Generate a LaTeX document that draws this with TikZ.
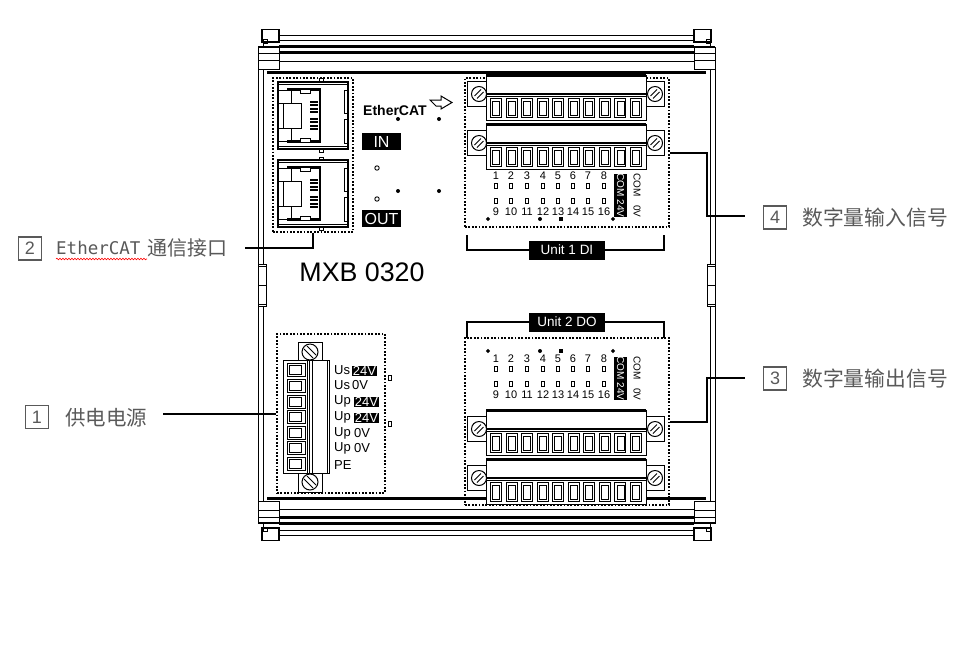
\documentclass[tikz,border=0pt]{standalone}
\usepackage{fontspec}
\setmainfont{Liberation Sans}
\newfontfamily\cjk{Noto Sans CJK SC}
\newfontfamily\monofam{DejaVu Sans Mono}
\usetikzlibrary{decorations.pathmorphing}
\definecolor{labelgray}{HTML}{595959}

\tikzset{
  fsize/.style = {font=\fontsize{#1}{#1}\selectfont},
  dotbox/.style = {draw, line width=1.8pt, dash pattern=on 1.8pt off 1.6pt, inner sep=0pt},
  leader/.style = {draw, line width=2pt},
  blackbox/.style = {fill=black, text=white, inner sep=0pt},
  numberbox/.style = {
    draw=labelgray, line width=1.2pt, fill=white, text=labelgray,
    minimum width=23pt, minimum height=23pt, inner sep=0pt, fsize=18
  },
  labeltext/.style = {text=labelgray, inner sep=0pt, anchor=west, font=\fontsize{#1}{24}\selectfont\cjk},
  labeltext/.default = 20.5,
  pinlabel/.style = {inner sep=0pt, fsize=11},
  powerlabel/.style = {inner sep=0pt, anchor=west, fsize=13},
  squiggle/.style = {
    draw=red, line width=0.6pt,
    decorate, decoration={snake, amplitude=0.8pt, segment length=3pt}
  }
}

% one plug-in terminal strip, #1 is the top edge
\newcommand{\terminalstrip}[1]{
  \foreach \cx/\ex/\ix in {479/467/486, 655/664/646} {
    \draw[line width=0.9pt, fill=white] (\ex,#1+6) rectangle (\ix,#1+31);
    \draw[line width=1pt, fill=white] (\cx,#1+19) circle (7.5);
    \draw[line width=0.8pt] (\cx-4.5,#1+21) -- (\cx+2,#1+14.5) (\cx-2,#1+23.5) -- (\cx+4.5,#1+17);
  }
  \draw[line width=0.9pt, fill=white] (486,#1) rectangle (646,#1+45);
  \draw[line width=2.5pt] (486,#1+0.5) -- (646,#1+0.5);
  \draw[line width=2pt] (486,#1+18.5) -- (646,#1+18.5);
  \draw[line width=0.8pt] (486,#1+21) -- (646,#1+21);
  \foreach \k in {0,...,9} {
    \draw[line width=0.9pt] (496+15.55*\k-5.5,#1+23) rectangle (496+15.55*\k+5.5,#1+42);
    \draw[line width=0.8pt] (496+15.55*\k-3.5,#1+26) rectangle (496+15.55*\k+3.5,#1+40);
  }
}

% RJ45 socket, #1 is the top edge
\newcommand{\rjport}[1]{
  \draw[line width=1.2pt] (278,#1) rectangle (348,#1+67);
  \draw[line width=0.8pt] (278,#1+2.5) -- (348,#1+2.5) (278,#1+64.5) -- (348,#1+64.5);
  \draw[line width=2.5pt] (287,#1+7.5) -- (320,#1+7.5) -- (320,#1+59.5) -- (287,#1+59.5);
  \draw[line width=0.8pt] (279,#1+8) -- (287,#1+8) (279,#1+59.5) -- (287,#1+59.5);
  \draw[line width=1pt] (291,#1+8) -- (291,#1+21) (291,#1+46) -- (291,#1+59);
  \draw[line width=1pt, fill=white] (283,#1+21) rectangle (301,#1+46);
  \draw[line width=0.8pt] (279,#1+21) -- (283,#1+21) (279,#1+46) -- (283,#1+46);
  \draw[line width=0.8pt, fill=white] (300,#1+7) rectangle (310,#1+11);
  \draw[line width=0.8pt, fill=white] (300,#1+56) rectangle (310,#1+60);
  \foreach \k in {0,1,2,3,5,6,7,8} {
    \fill (310,#1+19+3.4*\k) rectangle (318,#1+21+3.4*\k);
  }
  \draw[line width=0.8pt] (344,#1+8) -- (347,#1+8) -- (347,#1+31) -- (344,#1+31) -- cycle;
  \draw[line width=0.8pt] (344,#1+37) -- (347,#1+37) -- (347,#1+61) -- (344,#1+61) -- cycle;
  \draw[line width=0.8pt, fill=white] (319,#1+67) rectangle (323,#1+70);
}

% numbers, LEDs and the COM column, #1 is the height of the upper numbers
\newcommand{\ledpanel}[1]{
  \foreach \cx [count=\n] in {496,511,527,543,558,573,588,604} {
    \pgfmathtruncatemacro{\m}{\n+8}
    \node[pinlabel] (top\n) at (\cx,#1) {\n};
    \node[pinlabel] (bot\m) at (\cx,#1+36) {\m};
    \draw[line width=1.2pt, fill=white] (\cx-1.5,#1+7.5) rectangle (\cx+1.5,#1+12.5);
    \draw[line width=1.2pt, fill=white] (\cx-1.5,#1+22.5) rectangle (\cx+1.5,#1+27.5);
  }
  \node[blackbox, rotate=-90, minimum width=43pt, minimum height=13pt, fsize=10] (comon) at (620.5,#1+19.5) {COM 24V};
  \node[rotate=-90, inner sep=0pt, fsize=10] (comoff) at (637,#1+19.5) {COM\hspace{8pt}0V};
}

\begin{document}
\begin{tikzpicture}[x=1pt, y=-1pt]
  \useasboundingbox (0,0) rectangle (974,649);

  % DIN rail, four mirrored corners
  \foreach \sx/\tx in {1/0, -1/973} {
    \foreach \sy/\ty in {1/0, -1/-570} {
      \begin{scope}[xshift=\tx pt, yshift=\ty pt, xscale=\sx, yscale=\sy]
        \draw[line width=1.6pt] (262,29.5) rectangle (279,42);
        \draw[line width=0.8pt] (263,39) rectangle (267,43);
        \draw[line width=0.8pt] (263,42) -- (263,47);
        \draw[line width=2pt] (258,46.8) -- (279,46.8);
        \draw[line width=1pt] (258,47) rectangle (279,69);
        \draw[line width=1pt] (258,53) -- (279,53) (258,60) -- (279,60);
        \draw[line width=1pt] (279,35) -- (486.5,35) (279,40) -- (486.5,40) (279,61) -- (486.5,61);
        \draw[line width=2.4pt] (279,46.5) -- (486.5,46.5) (279,52.5) -- (486.5,52.5);
        \draw[line width=3pt] (267,72) -- (486.5,72);
        \draw[line width=1pt] (258,69) -- (258,285) (263,69) -- (263,285);
        \draw[line width=1pt, fill=white] (258,264) rectangle (266,285);
        \draw[line width=0.6pt] (258,266) -- (266,266);
      \end{scope}
    }
  }

  % Dotted outlines
  \node[dotbox, minimum width=80pt, minimum height=154pt] (ethbox) at (313,155) {};
  \node[dotbox, minimum width=108pt, minimum height=159pt] (pwrbox) at (331,413.5) {};
  \node[dotbox, minimum width=204pt, minimum height=149pt] (dibox) at (567,152.5) {};
  \node[dotbox, minimum width=204pt, minimum height=167pt] (dobox) at (567,421.5) {};

  % EtherCAT ports
  \draw[line width=0.8pt, fill=white] (319,78) rectangle (323,82);
  \rjport{82}
  \draw[line width=0.8pt, fill=white] (319,157) rectangle (323,160);
  \rjport{160}

  % EtherCAT logo
  \node[inner sep=0pt, anchor=west, font=\fontsize{14}{14}\selectfont\bfseries] (logo) at (363,110) {EtherCAT};
  \draw[line width=1pt, fill=white] (430,100) -- (441,100) -- (441,96) -- (452,102.5) -- (441,109) -- (441,106) -- (436,106) -- cycle;
  \node[blackbox, minimum width=39pt, minimum height=17pt, fsize=16] (inbox) at (381.5,141.5) {IN};
  \node[blackbox, minimum width=39pt, minimum height=17pt, fsize=16] (outbox) at (381.5,218.5) {OUT};
  \foreach \ax/\ay in {398/119, 439/119, 398/191, 439/191} {
    \fill (\ax,\ay) circle (2);
  }
  \foreach \ay in {168, 199} {
    \draw[line width=0.9pt] (377,\ay) circle (2.2);
  }
  \node[inner sep=0pt, fsize=26.8] (model) at (362,272) {MXB 0320};

  % Terminal strips
  \terminalstrip{75}
  \terminalstrip{124}
  \terminalstrip{410}
  \terminalstrip{459}

  % Numbers
  \ledpanel{176}
  \ledpanel{359}
  \foreach \ay in {219, 351} {
    \draw[line width=1.2pt, fill=white] (488,\ay) circle (1.3);
    \fill (540,\ay) circle (2);
    \fill (559,\ay-2) rectangle (563,\ay+2);
    \draw[line width=1.2pt, fill=white] (613,\ay) circle (1.3);
  }

  % Unit brackets
  \node[blackbox, minimum width=76pt, minimum height=19pt, fsize=13.5] (unitdi) at (567,250) {Unit 1 DI};
  \node[blackbox, minimum width=76pt, minimum height=19pt, fsize=13.5] (unitdo) at (567,322) {Unit 2 DO};
  \draw[leader] (467,235) |- (unitdi.west);
  \draw[leader] (664,235) |- (unitdi.east);
  \draw[leader] (467,338) |- (unitdo.west);
  \draw[leader] (664,338) |- (unitdo.east);

  % Power connector
  \draw[line width=0.9pt, fill=white] (298,342) rectangle (322,492);
  \foreach \ay in {352, 482} {
    \draw[line width=1pt, fill=white] (310,\ay) circle (8);
    \draw[line width=0.8pt] (304,\ay-3) -- (313,\ay+6) (307,\ay-6) -- (316,\ay+3);
  }
  \draw[line width=0.9pt, fill=white] (283,360) rectangle (329,473);
  \draw[line width=0.9pt] (307,360) -- (307,473) (312,360) -- (312,473);
  \draw[line width=0.9pt] (309,360) -- (309,473) (327,360) -- (327,473);
  \foreach \ay in {370, 386, 402, 417, 433, 448, 464} {
    \draw[line width=0.9pt] (287,\ay-6.5) rectangle (305,\ay+6.5);
    \draw[line width=0.8pt] (289,\ay-4.5) rectangle (301,\ay+4.5);
  }

  % Power labels
  \node[powerlabel] (usa) at (334,370) {Us};
  \node[powerlabel] (usb) at (334,385) {Us};
  \node[powerlabel] (upa) at (334,401) {Up};
  \node[powerlabel] (upb) at (334,417) {Up};
  \node[powerlabel] (upc) at (334,433) {Up};
  \node[powerlabel] (upd) at (334,448) {Up};
  \node[powerlabel] (pe) at (334,465) {PE};
  \node[blackbox, minimum width=25pt, minimum height=10pt, fsize=13] (vusa) at (364.5,370.5) {24V};
  \node[powerlabel] (vusb) at (352,385) {0V};
  \node[blackbox, minimum width=25pt, minimum height=10pt, fsize=13] (vupa) at (366.5,401.5) {24V};
  \node[blackbox, minimum width=25pt, minimum height=10pt, fsize=13] (vupb) at (366.5,417.5) {24V};
  \node[powerlabel] (vupc) at (354,433) {0V};
  \node[powerlabel] (vupd) at (354,448) {0V};
  \foreach \ay in {378, 424} {
    \draw[line width=1.2pt, fill=white] (388.5,\ay-2.5) rectangle (391.5,\ay+2.5);
  }

  % Callouts on the left
  \node[numberbox] (numtwo) at (30,248.5) {2};
  \node[labeltext, font=\fontsize{17.5}{24}\selectfont\monofam] (ecat) at (56,248) {EtherCAT};
  \node[labeltext=20] (ethtext) at (147,248) {通信接口};
  \draw[squiggle] (56,259) -- (147,259);
  \node[numberbox] (numone) at (37,417) {1};
  \node[labeltext] (pwrtext) at (65,418) {供电电源};

  % Callouts on the right
  \node[numberbox] (numfour) at (775,217.5) {4};
  \node[labeltext=20.8] (ditext) at (802,218) {数字量输入信号};
  \node[numberbox] (numthree) at (775,378.5) {3};
  \node[labeltext=20.8] (dotext) at (802,379) {数字量输出信号};

  % Leaders
  \coordinate (ethend) at (245,248);
  \coordinate (pwrend) at (163,413.5);
  \coordinate (diend) at (745,216);
  \coordinate (doend) at (745,378);
  \draw[leader] (ethbox.south) |- (ethend);
  \draw[leader] (pwrend) -- (pwrbox.west);
  \draw[leader] (dibox.east) -| (707,216) -- (diend);
  \draw[leader] (dobox.east) -| (707,378) -- (doend);

\end{tikzpicture}
\end{document}
